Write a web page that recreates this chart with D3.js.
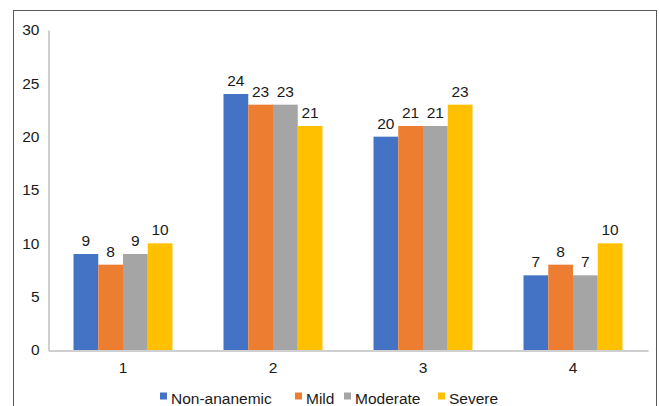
<!DOCTYPE html>
<html>
<head>
<meta charset="utf-8">
<script src="https://cdn.jsdelivr.net/npm/d3@7"></script>
<style>
  html, body { margin: 0; padding: 0; background: #fff; }
  svg { display: block; font-family: "Liberation Sans", Arial, sans-serif; }
</style>
</head>
<body>
<svg id="chart" width="659" height="406"></svg>
<script>
// Groups along the x axis
const categories = ["1", "2", "3", "4"];
// Anaemia status series
const seriesNames = ["Non-ananemic", "Mild", "Moderate", "Severe"];
const nonAnaemic = [9, 24, 20, 7];
const mild = [8, 23, 21, 8];
const moderate = [9, 23, 21, 7];
const severe = [10, 21, 23, 10];
const yTicks = [0, 5, 10, 15, 20, 25, 30];
const colors = ["#4472C4", "#ED7D31", "#A5A5A5", "#FFC000"];

const seriesValues = [nonAnaemic, mild, moderate, severe];
const fontSize = 15.5;
const textColor = "#1a1a1a";

const svg = d3.select("#chart");

// Outer frame
svg.append("rect")
  .attr("x", 13.5).attr("y", 10.5)
  .attr("width", 643).attr("height", 420)
  .attr("fill", "none").attr("stroke", "#595959").attr("stroke-width", 1);

const plotLeft = 48, plotRight = 648, plotTop = 30, plotBottom = 350;

const x0 = d3.scaleBand().domain(categories).range([plotLeft, plotRight]).paddingInner(0).paddingOuter(0);
const x1 = d3.scaleBand().domain(seriesNames).range([25.5, 124.5]).padding(0);
const y = d3.scaleLinear().domain([0, 30]).range([plotBottom, plotTop]);

// Y axis
const yAxis = svg.append("g")
  .attr("transform", `translate(${plotLeft + 0.5},0)`)
  .call(d3.axisLeft(y).tickValues(yTicks).tickSize(0).tickPadding(9));
yAxis.select(".domain").attr("stroke", "#BFBFBF").attr("stroke-width", 1.5);
yAxis.selectAll("text").attr("font-size", fontSize).attr("fill", textColor)
  .attr("font-family", "Liberation Sans, Arial, sans-serif");

// X axis
const xAxis = svg.append("g")
  .attr("transform", `translate(0,${plotBottom + 0.5})`)
  .call(d3.axisBottom(x0).tickSize(0).tickPadding(11));
xAxis.select(".domain").attr("stroke", "#BFBFBF").attr("stroke-width", 1.5);
xAxis.selectAll("text").attr("font-size", fontSize).attr("fill", textColor)
  .attr("font-family", "Liberation Sans, Arial, sans-serif");

// Bars and value labels
const groups = svg.append("g").selectAll("g")
  .data(categories)
  .join("g")
  .attr("transform", d => `translate(${x0(d)},0)`);

groups.each(function(cat, ci) {
  const g = d3.select(this);
  const rows = seriesNames.map((s, si) => ({ s, si, v: seriesValues[si][ci] }));
  g.selectAll("rect").data(rows).join("rect")
    .attr("x", d => x1(d.s))
    .attr("y", d => y(d.v))
    .attr("width", x1.bandwidth())
    .attr("height", d => y(0) - y(d.v))
    .attr("fill", d => colors[d.si]);
  g.selectAll("text").data(rows).join("text")
    .attr("x", d => x1(d.s) + x1.bandwidth() / 2)
    .attr("y", d => y(d.v) - 8)
    .attr("text-anchor", "middle")
    .attr("font-size", fontSize)
    .attr("fill", textColor)
    .text(d => d.v);
});

// Legend
const legendX = [160, 295, 344, 438];
const legend = svg.append("g").selectAll("g")
  .data(seriesNames)
  .join("g")
  .attr("transform", (d, i) => `translate(${legendX[i]},393)`);
legend.append("rect")
  .attr("x", 0).attr("y", -0.5).attr("width", 7).attr("height", 7)
  .attr("fill", (d, i) => colors[i]);
legend.append("text")
  .attr("x", 11).attr("y", 10.5)
  .attr("font-size", fontSize).attr("fill", textColor)
  .text(d => d);
</script>
</body>
</html>
